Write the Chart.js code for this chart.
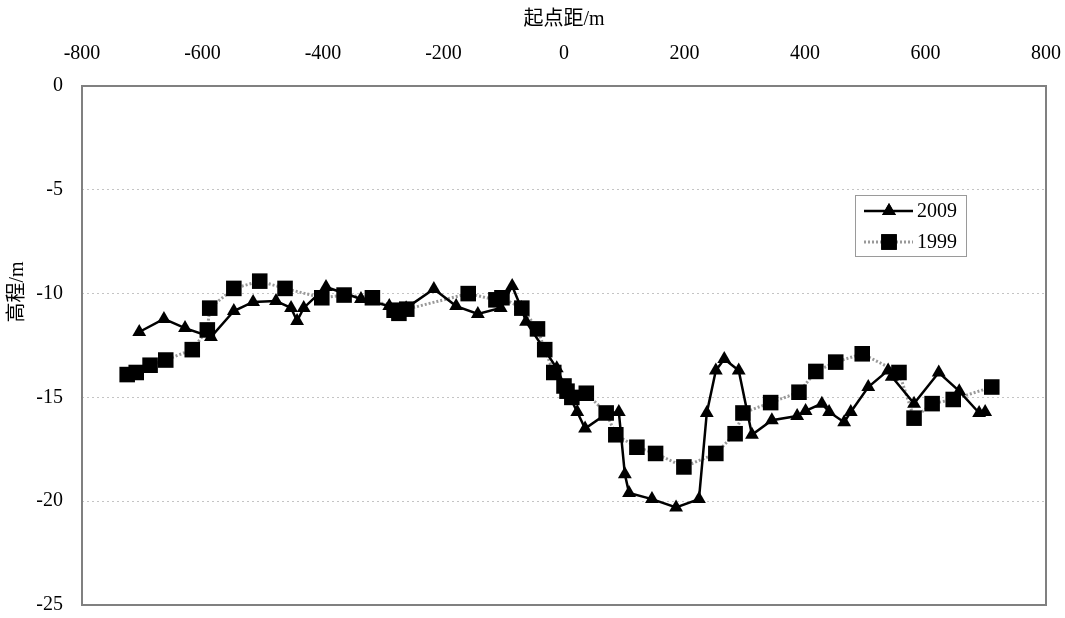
<!DOCTYPE html>
<html>
<head>
<meta charset="utf-8">
<script src="https://cdn.jsdelivr.net/npm/chart.js@4"></script>
<style>
    html, body { margin: 0; padding: 0; background: #fff; overflow: hidden; }
    #chart { display: block; }
</style>
</head>
<body>
<canvas id="chart" width="1065" height="618"></canvas>
<script>
const distance2009 = [-705, -664, -629, -586, -548, -516, -478, -453, -443, -432, -395, -337, -290, -262, -216, -179, -143, -105, -86, -71, -63, -12, 5, 22, 35, 70, 91, 101, 108, 146, 186, 224, 237, 252, 266, 290, 312, 345, 387, 401, 428, 440, 465, 476, 505, 538, 544, 581, 622, 656, 689, 699];
const elev2009 = [-11.85, -11.22, -11.66, -12.09, -10.84, -10.40, -10.36, -10.69, -11.32, -10.69, -9.68, -10.26, -10.6, -10.7, -9.78, -10.6, -10.98, -10.69, -9.63, -10.69, -11.35, -13.6, -14.7, -15.7, -16.5, -15.8, -15.7, -18.7, -19.6, -19.9, -20.3, -19.9, -15.75, -13.7, -13.15, -13.7, -16.8, -16.1, -15.9, -15.65, -15.3, -15.7, -16.2, -15.7, -14.5, -13.7, -14.0, -15.3, -13.8, -14.7, -15.75, -15.7];

const distance1999 = [-725, -710, -687, -661, -617, -592, -588, -548, -505, -463, -402, -365, -318, -282, -274, -261, -159, -113, -103, -70, -44, -32, -17, 0, 5, 13, 37, 70, 86, 121, 152, 199, 252, 284, 297, 343, 390, 418, 451, 495, 556, 581, 611, 646, 710];
const elev1999 = [-13.9, -13.8, -13.45, -13.2, -12.7, -11.75, -10.7, -9.75, -9.4, -9.75, -10.2, -10.07, -10.2, -10.8, -10.95, -10.75, -10.0, -10.3, -10.2, -10.7, -11.7, -12.7, -13.8, -14.45, -14.7, -15.0, -14.8, -15.75, -16.8, -17.4, -17.7, -18.35, -17.7, -16.75, -15.75, -15.25, -14.75, -13.75, -13.3, -12.9, -13.8, -16.0, -15.3, -15.1, -14.5];

const seriesNames = ['2009', '1999'];
const xTitle = '起点距/m';
const yTitle = '高程/m';

const fontFamily = '"Liberation Serif", "Times New Roman", "Noto Sans CJK SC", serif';

function toPoints(xs, ys) {
    return xs.map((x, i) => ({ x, y: ys[i] }));
}

// keep the plot area where the reference has it
function noAutoPad(scale) {
    scale.paddingLeft = 0;
    scale.paddingRight = 0;
    scale.paddingTop = 0;
    scale.paddingBottom = 0;
}

// frame round the plot area
const frame = {
    id: 'frame',
    afterDraw(chart) {
        const { ctx, chartArea: a } = chart;
        ctx.save();
        ctx.strokeStyle = '#808080';
        ctx.lineWidth = 2;
        ctx.strokeRect(a.left, a.top, a.right - a.left, a.bottom - a.top);
        ctx.restore();
    }
};

// y title sits a little above the middle in the original
const yAxisTitle = {
    id: 'yAxisTitle',
    afterDraw(chart) {
        const { ctx } = chart;
        ctx.save();
        ctx.translate(18, 292);
        ctx.rotate(-Math.PI / 2);
        ctx.fillStyle = '#000';
        ctx.font = '20px ' + fontFamily;
        ctx.textAlign = 'center';
        ctx.textBaseline = 'middle';
        ctx.fillText(yTitle, 0, 0);
        ctx.restore();
    }
};

// boxed legend inside the plot
const boxLegend = {
    id: 'boxLegend',
    afterDraw(chart) {
        const { ctx } = chart;
        const x0 = 855, y0 = 195, w = 111, h = 61;
        ctx.save();
        ctx.fillStyle = '#fff';
        ctx.fillRect(x0, y0, w, h);
        ctx.strokeStyle = '#9a9a9a';
        ctx.lineWidth = 1;
        ctx.strokeRect(x0 + 0.5, y0 + 0.5, w, h);

        const rows = [y0 + 16, y0 + 47];
        chart.data.datasets.forEach((ds, i) => {
            const y = rows[i];
            ctx.save();
            ctx.strokeStyle = ds.borderColor;
            ctx.lineWidth = ds.borderWidth;
            ctx.setLineDash(ds.borderDash || []);
            ctx.beginPath();
            ctx.moveTo(x0 + 9, y);
            ctx.lineTo(x0 + 58, y);
            ctx.stroke();
            ctx.restore();
            ctx.fillStyle = '#000';
            Chart.helpers.drawPoint(ctx, {
                pointStyle: ds.pointStyle,
                radius: ds.pointRadius,
                borderWidth: 0
            }, x0 + 34, y);
            ctx.fill();
            ctx.fillStyle = '#000';
            ctx.font = '20px ' + fontFamily;
            ctx.textBaseline = 'middle';
            ctx.fillText(ds.label, x0 + 62, y + 1);
        });
        ctx.restore();
    }
};

new Chart(document.getElementById('chart'), {
    type: 'line',
    data: {
        datasets: [
            {
                label: seriesNames[0],
                data: toPoints(distance2009, elev2009),
                borderColor: '#000',
                borderWidth: 2.5,
                pointStyle: 'triangle',
                pointRadius: 8,
                pointBackgroundColor: '#000',
                pointBorderColor: '#000',
                pointBorderWidth: 0,
                tension: 0
            },
            {
                label: seriesNames[1],
                data: toPoints(distance1999, elev1999),
                borderColor: '#999',
                borderWidth: 3,
                borderDash: [2, 2],
                pointStyle: 'rect',
                pointRadius: 11,
                pointBackgroundColor: '#000',
                pointBorderColor: '#000',
                pointBorderWidth: 0,
                tension: 0
            }
        ]
    },
    options: {
        responsive: false,
        animation: false,
        layout: {
            autoPadding: false,
            padding: { left: 6, right: 19, top: 8, bottom: 13 }
        },
        plugins: {
            legend: { display: false },
            tooltip: { enabled: false }
        },
        scales: {
            x: {
                type: 'linear',
                position: 'top',
                min: -800,
                max: 800,
                grid: { display: false, drawTicks: false },
                border: { display: false },
                ticks: {
                    stepSize: 200,
                    padding: 20,
                    color: '#000',
                    font: { family: fontFamily, size: 20 }
                },
                title: {
                    display: true,
                    text: xTitle,
                    color: '#000',
                    padding: 0,
                    font: { family: fontFamily, size: 20 }
                },
                afterFit(scale) {
                    scale.height = 78;
                    noAutoPad(scale);
                }
            },
            y: {
                min: -25,
                max: 0,
                grid: {
                    drawTicks: false,
                    color: ctx => (ctx.tick.value === 0 || ctx.tick.value === -25) ? 'rgba(0,0,0,0)' : '#c4c4c4',
                    lineWidth: 1
                },
                border: { display: false, dash: [2, 3] },
                ticks: {
                    stepSize: 5,
                    padding: 19,
                    color: '#000',
                    font: { family: fontFamily, size: 20 }
                },
                title: { display: false },
                afterFit(scale) {
                    scale.width = 76;
                    noAutoPad(scale);
                }
            }
        }
    },
    plugins: [frame, yAxisTitle, boxLegend]
});
</script>
</body>
</html>
